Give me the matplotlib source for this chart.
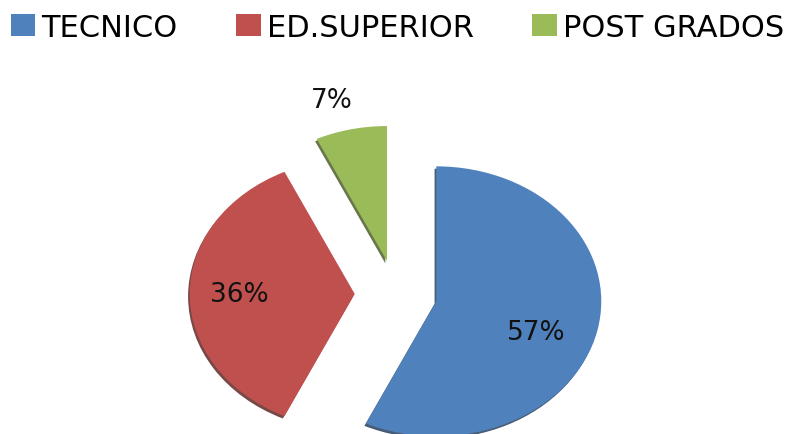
import numpy as np
import matplotlib
matplotlib.use('Agg')
import matplotlib.pyplot as plt
import matplotlib.colors as mcolors
import matplotlib.transforms as mtransforms
from matplotlib.patches import Wedge

# datos del grafico
categorias = ['TECNICO', 'ED.SUPERIOR', 'POST GRADOS']
valores = [57, 36, 7]
colores = ['#4F81BD', '#C0504D', '#9BBB59']

# ubicacion de las etiquetas: distancia al centro y giro (grados)
dist_etiq = [0.65, 0.70, 1.24]
giro_etiq = [-8, 0, 3]

plt.rcParams['font.family'] = ['DejaVu Sans']

fig = plt.figure(figsize=(7.93, 4.35), dpi=100)
ax = fig.add_axes([0, 0, 1, 1])

wedges, texts, autotexts = ax.pie(
    valores, colors=colores, explode=[0.25] * len(valores),
    startangle=90, counterclock=False, radius=1,
    autopct='%1.0f%%', pctdistance=0.66,
    textprops={'fontsize': 19, 'color': '#111111'},
    wedgeprops={'linewidth': 0, 'zorder': 2},
)

# borde oscuro abajo a la izquierda (efecto 3D del original)
desplaza = mtransforms.ScaledTranslation(-1.2 / 72, -1.7 / 72, fig.dpi_scale_trans)
for w, c in zip(wedges, colores):
    oscuro = 0.5 * np.array(mcolors.to_rgb(c))
    sombra = Wedge(w.center, w.r, w.theta1, w.theta2, facecolor=oscuro,
                   edgecolor='none', alpha=0.85, zorder=1,
                   transform=ax.transData + desplaza)
    ax.add_artist(sombra)

for w, t, d, g in zip(wedges, autotexts, dist_etiq, giro_etiq):
    th = np.deg2rad((w.theta1 + w.theta2) / 2 + g)
    cx, cy = w.center
    t.set_position((cx + d * np.cos(th), cy + d * np.sin(th)))
    t.set_zorder(3)

# elipse horizontal como en la imagen original
ax.set_aspect('auto')
ax.set_xlim(-2.4, 2.406)
ax.set_ylim(-1.037, 2.185)
ax.axis('off')

fig.legend(wedges, categorias, loc='upper left', bbox_to_anchor=(0.002, 0.99),
           ncol=3, frameon=False, fontsize=22, handlelength=0.8,
           handleheight=0.7, handletextpad=0.2, columnspacing=1.92,
           borderpad=0.3, borderaxespad=0)

fig.savefig('out.png', dpi=100)
